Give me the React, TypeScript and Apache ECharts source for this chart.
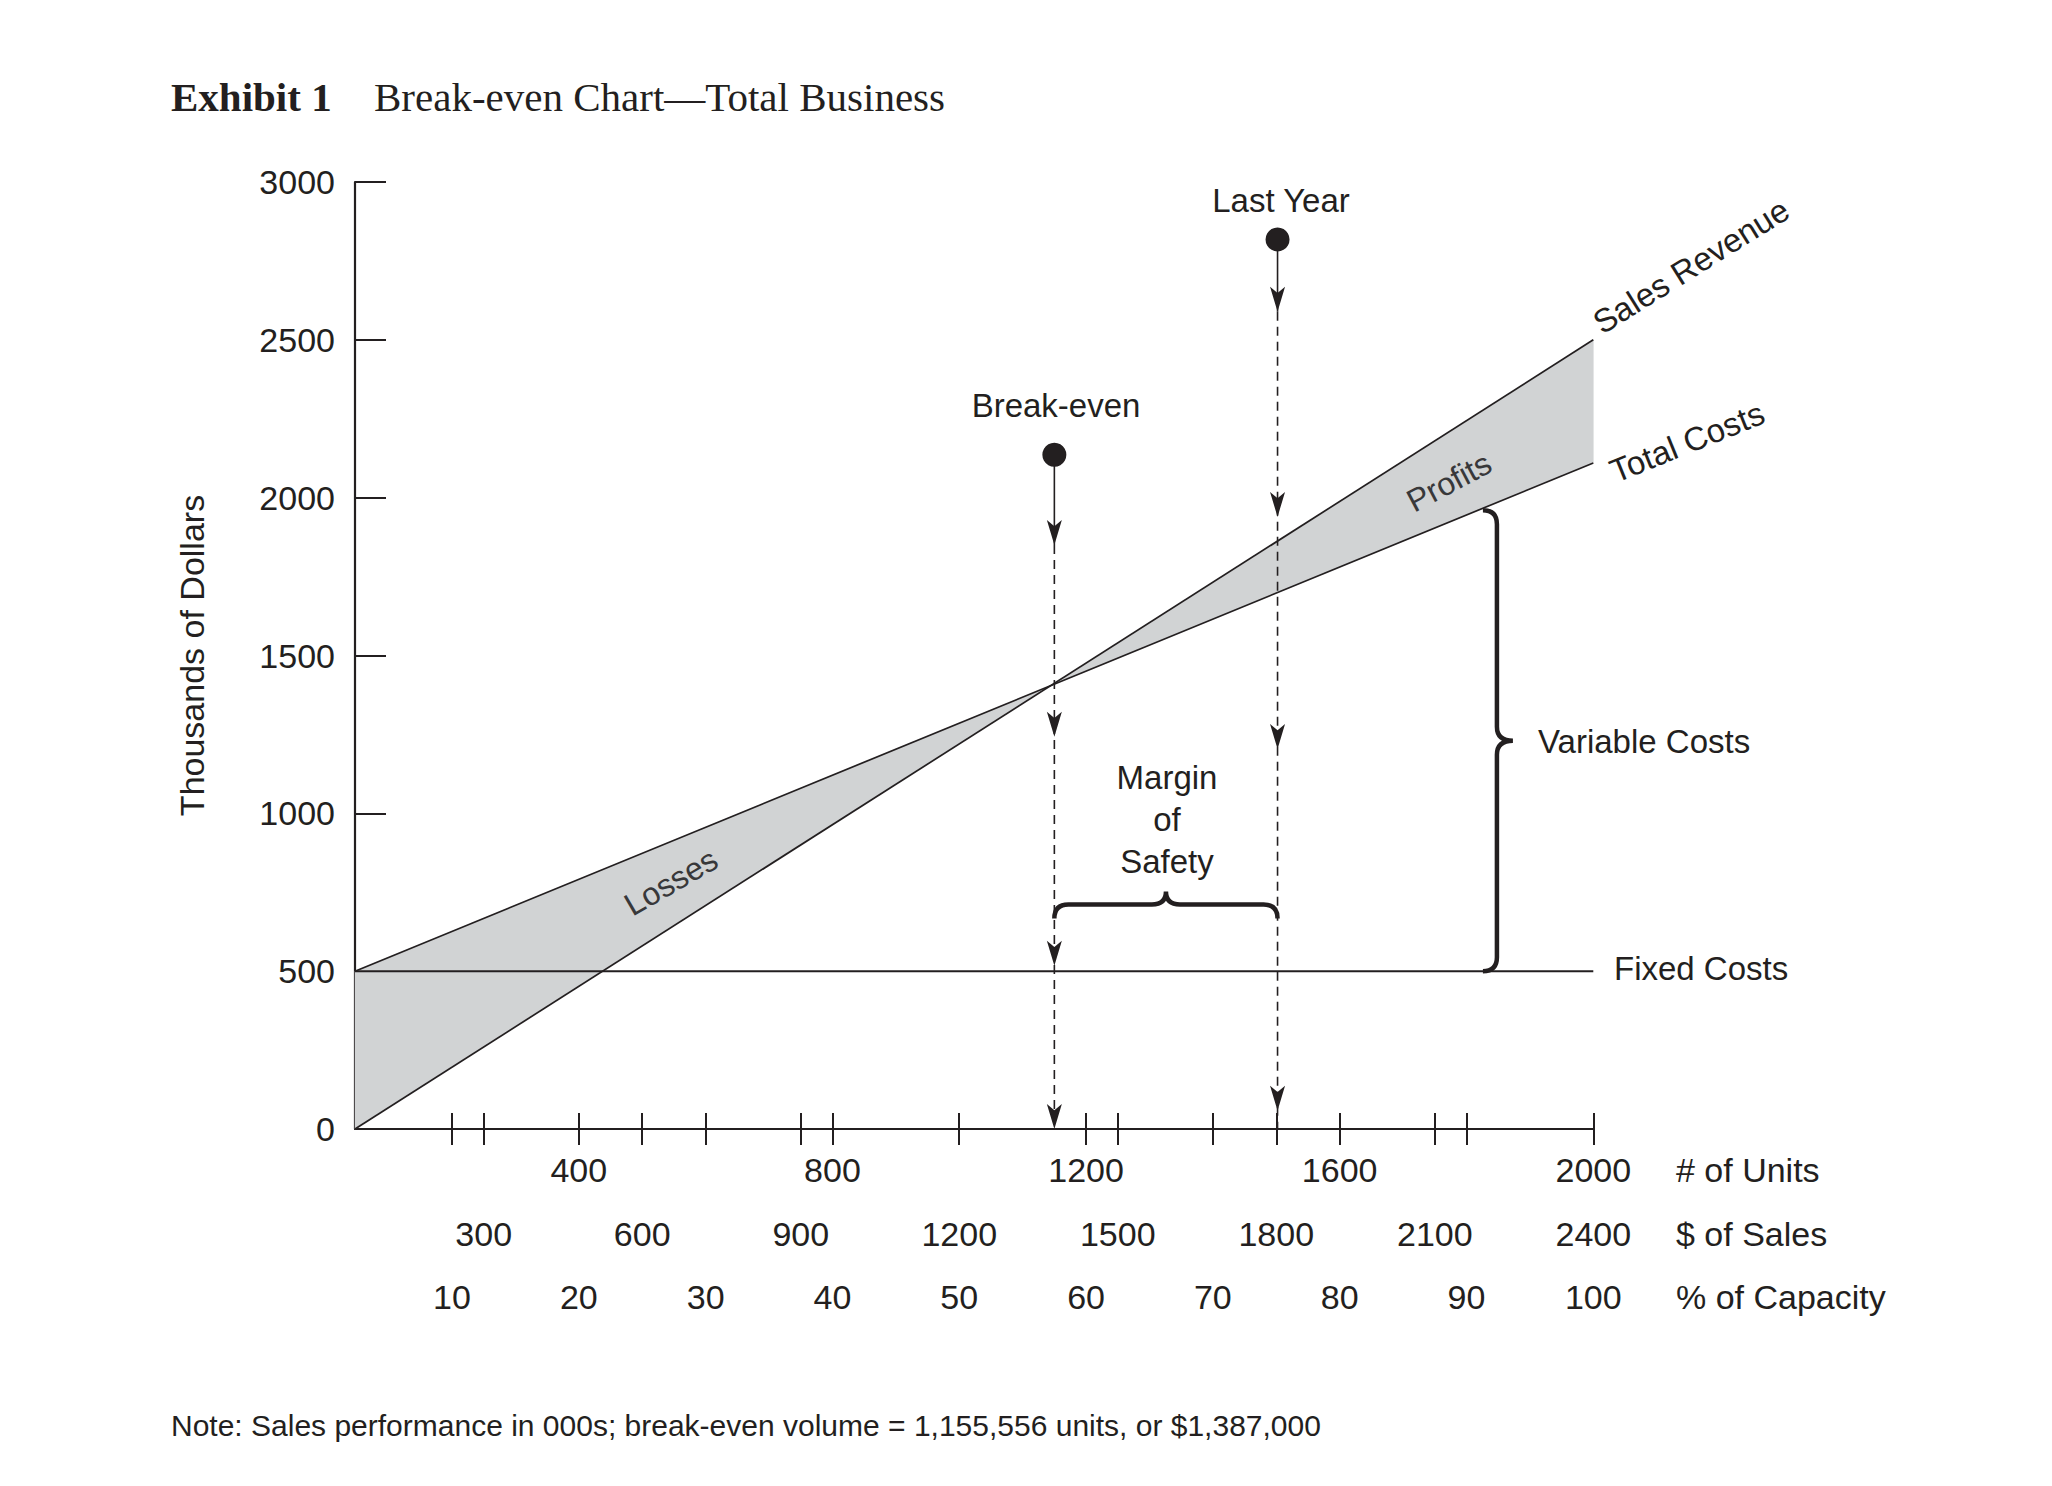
import React, { useEffect, useRef } from 'react';
import * as echarts from 'echarts';

const INK = '#231f20';
const SHADE = '#d1d3d4';
const SANS = '"Liberation Sans", Arial, Helvetica, sans-serif';
const SERIF = '"Liberation Serif", "Times New Roman", serif';

// ---- axes ----
const unitsExtent = [47, 2000];
const salesExtent = [56.4, 2400];
const capacityExtent = [2.35, 100];
const unitsTicks = [400, 800, 1200, 1600, 2000];
const salesTicks = [300, 600, 900, 1200, 1500, 1800, 2100, 2400];
const capacityTicks = [10, 20, 30, 40, 50, 60, 70, 80, 90, 100];
const dollarsExtent = [0, 3000];
const dollarsStep = 500;

// ---- lines (units -> thousands of dollars) ----
const lineUnits = [47, 2000];
const salesRevenue = [0, 2500];
const totalCosts = [500, 2110];
const fixedCosts = [500, 500];

// ---- annotations ----
const markerUnits = [1150, 1502]; // break-even, last year
const markerDots = [2136, 2818];
const breakEvenArrowTips = [1850, 1243, 517, 0];
const lastYearArrowTips = [2589, 1939, 1204, 58];
const marginBrace = [1150, 1502, 711]; // from units, to units, at dollars
const variableBrace = [1848, 500, 1960]; // at units, from dollars, to dollars

const slope = (ys: number[]) => (ys[1] - ys[0]) / (lineUnits[1] - lineUnits[0]);
const at = (ys: number[], u: number) => ys[0] + slope(ys) * (u - lineUnits[0]);
const crossUnits =
  lineUnits[0] + (totalCosts[0] - salesRevenue[0]) / (slope(salesRevenue) - slope(totalCosts));

const ARROW = 'path://M0,0 L7,6 L14,0 L7,24 Z';
const plain = (v: number) => String(Math.round(v));

const txt = (
  text: string,
  x: number,
  y: number,
  o: { size?: number; align?: string; rot?: number; fill?: string; family?: string; weight?: string } = {}
) => ({
  type: 'text',
  x,
  y,
  rotation: o.rot ? (o.rot * Math.PI) / 180 : 0,
  silent: true,
  z: 20,
  style: {
    text,
    fill: o.fill || INK,
    fontSize: o.size || 34,
    fontFamily: o.family || SANS,
    fontWeight: o.weight || 'normal',
    align: o.align || 'left',
    verticalAlign: 'middle',
  },
});

const bottomAxis = (ext: number[], ticks: number[], margin: number) => ({
  type: 'value',
  min: ext[0],
  max: ext[1],
  position: 'bottom',
  offset: -16,
  axisLine: { show: false, onZero: false },
  axisTick: { show: true, customValues: ticks, length: 32, inside: false, lineStyle: { color: INK, width: 2 } },
  axisLabel: {
    show: true,
    customValues: ticks,
    margin,
    showMinLabel: true,
    showMaxLabel: true,
    formatter: plain,
    color: INK,
    fontSize: 34,
    fontFamily: SANS,
  },
  splitLine: { show: false },
});

export default function App() {
  const ref = useRef<HTMLDivElement>(null);

  useEffect(() => {
    if (!ref.current) return;
    const chart = echarts.init(ref.current, null, { renderer: 'svg' });

    const markerSeries: any[] = [];
    const tipsList = [breakEvenArrowTips, lastYearArrowTips];
    markerUnits.forEach((u, i) => {
      const tips = tipsList[i];
      markerSeries.push({
        type: 'line',
        data: [[u, markerDots[i]], [u, tips[0]]],
        showSymbol: false,
        lineStyle: { color: INK, width: 1.6, opacity: 1 },
        z: 6,
        silent: true,
      });
      markerSeries.push({
        type: 'line',
        data: [[u, tips[0]], [u, 0]],
        showSymbol: false,
        lineStyle: { color: INK, width: 1.6, type: [9, 6], opacity: 1 },
        z: 6,
        silent: true,
      });
      markerSeries.push({
        type: 'scatter',
        data: tips.map((t) => [u, t]),
        symbol: ARROW,
        symbolSize: [15, 25],
        symbolOffset: [0, -12.5],
        itemStyle: { color: INK, opacity: 1 },
        z: 7,
        silent: true,
      });
    });

    const option: any = {
      animation: false,
      backgroundColor: '#ffffff',
      grid: { left: 355, top: 182, width: 1238.3, height: 947, containLabel: false, outerBoundsMode: 'none' },
      xAxis: [
        {
          type: 'value',
          min: unitsExtent[0],
          max: unitsExtent[1],
          position: 'bottom',
          axisLine: { show: true, onZero: false, lineStyle: { color: INK, width: 2.2 } },
          axisTick: { show: false },
          axisLabel: { show: false },
          splitLine: { show: false },
        },
        bottomAxis(unitsExtent, unitsTicks, 40),
        bottomAxis(salesExtent, salesTicks, 104),
        bottomAxis(capacityExtent, capacityTicks, 167),
      ],
      yAxis: {
        type: 'value',
        min: dollarsExtent[0],
        max: dollarsExtent[1],
        interval: dollarsStep,
        name: 'Thousands of Dollars',
        nameLocation: 'middle',
        nameGap: 146,
        nameTextStyle: { color: INK, fontSize: 34, fontFamily: SANS },
        axisLine: { show: true, onZero: false, lineStyle: { color: INK, width: 2.2 } },
        axisTick: { show: true, inside: true, length: 31, lineStyle: { color: INK, width: 2 } },
        axisLabel: { margin: 20, color: INK, fontSize: 34, fontFamily: SANS, formatter: plain },
        splitLine: { show: false },
      },
      series: [
        {
          type: 'custom',
          coordinateSystem: 'cartesian2d',
          encode: { x: [0, 1], y: 2 },
          data: [
            [lineUnits[0], crossUnits, 0],
            [crossUnits, lineUnits[1], 0],
          ],
          z: 1,
          silent: true,
          renderItem: (params: any, api: any) => {
            const u0 = api.value(0);
            const u1 = api.value(1);
            const pts = [
              [u0, at(salesRevenue, u0)],
              [u1, at(salesRevenue, u1)],
              [u1, at(totalCosts, u1)],
              [u0, at(totalCosts, u0)],
            ].map((p) => api.coord(p));
            return { type: 'polygon', shape: { points: pts }, style: { fill: SHADE, stroke: SHADE, lineWidth: 0.5 } };
          },
        },
        {
          name: 'Fixed Costs',
          type: 'line',
          data: lineUnits.map((u, i) => [u, fixedCosts[i]]),
          showSymbol: false,
          lineStyle: { color: INK, width: 2 },
          z: 3,
          silent: true,
        },
        {
          name: 'Total Costs',
          type: 'line',
          data: lineUnits.map((u, i) => [u, totalCosts[i]]),
          showSymbol: false,
          lineStyle: { color: INK, width: 1.7 },
          z: 4,
          silent: true,
        },
        {
          name: 'Sales Revenue',
          type: 'line',
          data: lineUnits.map((u, i) => [u, salesRevenue[i]]),
          showSymbol: false,
          lineStyle: { color: INK, width: 1.7 },
          z: 4,
          silent: true,
        },
        ...markerSeries,
        {
          type: 'scatter',
          data: markerUnits.map((u, i) => [u, markerDots[i]]),
          symbol: 'circle',
          symbolSize: 24,
          itemStyle: { color: INK, opacity: 1 },
          z: 8,
          silent: true,
        },
        {
          type: 'custom',
          coordinateSystem: 'cartesian2d',
          encode: { x: [0, 1], y: 2 },
          data: [marginBrace],
          z: 9,
          silent: true,
          renderItem: (params: any, api: any) => {
            const p1 = api.coord([api.value(0), api.value(2)]);
            const p2 = api.coord([api.value(1), api.value(2)]);
            const x1 = p1[0];
            const x2 = p2[0];
            const y = p1[1];
            const xm = (x1 + x2) / 2;
            const c = 14;
            const h = 13;
            const d =
              `M${x1},${y + c} Q${x1},${y} ${x1 + c},${y} L${xm - c},${y} Q${xm},${y} ${xm},${y - h} ` +
              `Q${xm},${y} ${xm + c},${y} L${x2 - c},${y} Q${x2},${y} ${x2},${y + c}`;
            return { type: 'path', shape: { pathData: d }, style: { fill: 'none', stroke: INK, lineWidth: 4.5 } };
          },
        },
        {
          type: 'custom',
          coordinateSystem: 'cartesian2d',
          encode: { x: 0, y: [1, 2] },
          data: [variableBrace],
          z: 9,
          silent: true,
          renderItem: (params: any, api: any) => {
            const pb = api.coord([api.value(0), api.value(1)]);
            const pt = api.coord([api.value(0), api.value(2)]);
            const x = pb[0];
            const y1 = pt[1];
            const y2 = pb[1];
            const ym = (y1 + y2) / 2;
            const c = 14;
            const w = 16;
            const d =
              `M${x - c},${y1} Q${x},${y1} ${x},${y1 + c} L${x},${ym - c} Q${x},${ym} ${x + w},${ym} ` +
              `Q${x},${ym} ${x},${ym + c} L${x},${y2 - c} Q${x},${y2} ${x - c},${y2}`;
            return { type: 'path', shape: { pathData: d }, style: { fill: 'none', stroke: INK, lineWidth: 4.5 } };
          },
        },
      ],
      graphic: [
        txt('Exhibit 1', 171, 97, { size: 41, family: SERIF, weight: 'bold' }),
        txt('Break-even Chart\u2014Total Business', 374, 97, { size: 41, family: SERIF }),
        txt('Last Year', 1281, 200, { size: 33, align: 'center' }),
        txt('Break-even', 1056, 405, { size: 33, align: 'center' }),
        txt('Margin', 1167, 777, { size: 33, align: 'center' }),
        txt('of', 1167, 819, { size: 33, align: 'center' }),
        txt('Safety', 1167, 861, { size: 33, align: 'center' }),
        txt('Variable Costs', 1538, 741, { size: 33 }),
        txt('Fixed Costs', 1614, 968, { size: 33 }),
        txt('Sales Revenue', 1691, 266, { size: 33, align: 'center', rot: 32 }),
        txt('Total Costs', 1687, 442, { size: 33, align: 'center', rot: 22 }),
        txt('Profits', 1449, 482, { size: 32, align: 'center', rot: 28, fill: '#38383a' }),
        txt('Losses', 671, 882, { size: 32, align: 'center', rot: 30, fill: '#38383a' }),
        txt('# of Units', 1676, 1170, { size: 34 }),
        txt('$ of Sales', 1676, 1234, { size: 34 }),
        txt('% of Capacity', 1676, 1297, { size: 34 }),
        txt('Note: Sales performance in 000s; break-even volume = 1,155,556 units, or $1,387,000', 171, 1425, {
          size: 30,
        }),
      ],
    };

    chart.setOption(option);
    return () => chart.dispose();
  }, []);

  return (
    <div
      ref={ref}
      style={{ position: 'fixed', left: 0, top: 0, width: 2052, height: 1486, background: '#fff' }}
    />
  );
}
